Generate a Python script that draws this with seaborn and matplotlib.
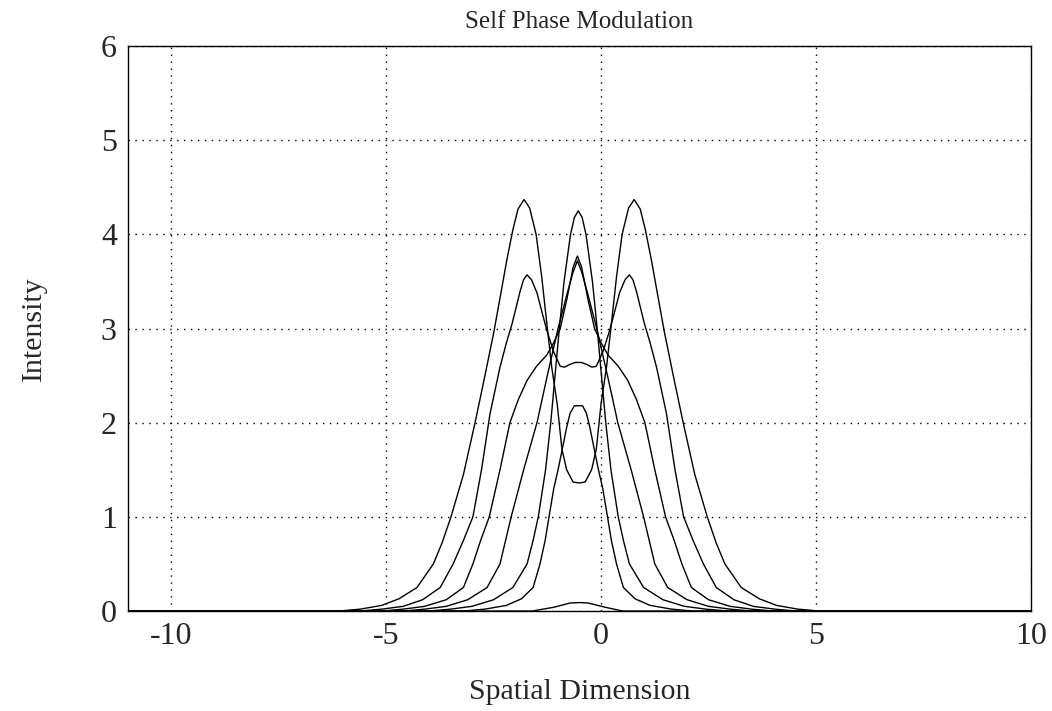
import matplotlib
matplotlib.use("Agg")
import matplotlib.pyplot as plt
import seaborn as sns

# curve A: widest split profile (two peaks ~4.37)
a_x = [-11, -6.1, -5.6, -5.1, -4.7, -4.28, -3.9, -3.7, -3.49, -3.2, -2.93, -2.7, -2.49,
       -2.3, -2.19, -2.05, -1.93, -1.79, -1.66, -1.51, -1.38, -1.26, -1.15, -1.02, -0.91,
       -0.8, -0.65, -0.51, -0.37, -0.22, -0.11, 0.0, 0.13, 0.24, 0.36, 0.49, 0.64, 0.77,
       0.91, 1.03, 1.17, 1.28, 1.47, 1.68, 1.91, 2.18, 2.47, 2.68, 2.88, 3.26, 3.68, 4.08,
       4.58, 5.08, 10]
a_y = [0, 0, 0.02, 0.06, 0.13, 0.25, 0.5, 0.72, 1.0, 1.45, 2.0, 2.5, 2.97,
       3.45, 3.73, 4.05, 4.27, 4.37, 4.28, 4.0, 3.55, 3.05, 2.6, 2.2, 1.72,
       1.5, 1.37, 1.36, 1.37, 1.5, 1.72, 2.2, 2.6, 3.05, 3.55, 4.0, 4.28, 4.37,
       4.27, 4.05, 3.73, 3.45, 2.97, 2.5, 2.0, 1.45, 1.0, 0.72, 0.5, 0.25, 0.13, 0.06,
       0.02, 0, 0]

# curve B: split profile with flat centre (peaks ~3.57)
b_x = [-11, -5.6, -5.1, -4.6, -4.15, -3.74, -3.44, -3.2, -2.98, -2.78, -2.58, -2.35,
       -2.2, -2.07, -1.88, -1.8, -1.72, -1.62, -1.49, -1.36, -1.26, -1.1, -0.95, -0.85,
       -0.72, -0.6, -0.46, -0.34, -0.21, -0.11, 0.04, 0.2, 0.3, 0.43, 0.56, 0.66, 0.74,
       0.82, 1.01, 1.14, 1.29, 1.52, 1.72, 1.92, 2.14, 2.38, 2.68, 3.09, 3.54, 4.04,
       4.54, 10]
b_y = [0, 0, 0.02, 0.05, 0.12, 0.25, 0.5, 0.75, 1.0, 1.5, 2.1, 2.59,
       2.85, 3.05, 3.4, 3.52, 3.57, 3.52, 3.38, 3.15, 2.98, 2.75, 2.6, 2.59,
       2.62, 2.64, 2.64, 2.62, 2.59, 2.6, 2.75, 2.98, 3.15, 3.38, 3.52, 3.57, 3.52,
       3.4, 3.05, 2.85, 2.59, 2.1, 1.5, 1.0, 0.75, 0.5, 0.25, 0.12, 0.05, 0.02,
       0, 0]

# curve G1: peak ~3.77 on a broad pedestal
g1_x = [-11, -5.1, -4.6, -4.1, -3.6, -3.2, -2.98, -2.8, -2.6, -2.35, -2.12, -1.92,
        -1.72, -1.5, -1.26, -1.1, -0.95, -0.8, -0.65, -0.55, -0.45, -0.3, -0.15, 0.0,
        0.16, 0.4, 0.62, 0.82, 1.02, 1.25, 1.5, 1.7, 1.88, 2.1, 2.5, 3.0, 3.5, 4.0, 10]
g1_y = [0, 0, 0.02, 0.05, 0.12, 0.25, 0.5, 0.75, 1.0, 1.5, 2.0, 2.25,
        2.45, 2.6, 2.72, 2.85, 3.0, 3.3, 3.65, 3.77, 3.65, 3.3, 3.0, 2.85,
        2.72, 2.6, 2.45, 2.25, 2.0, 1.5, 1.0, 0.75, 0.5, 0.25, 0.12, 0.05, 0.02, 0, 0]

# curve G2: peak ~3.72
g2_x = [-11, -4.6, -4.1, -3.6, -3.1, -2.65, -2.35, -2.22, -2.09, -1.8, -1.49, -1.25,
        -1.0, -0.79, -0.65, -0.55, -0.45, -0.31, -0.1, 0.15, 0.39, 0.7, 0.99, 1.12,
        1.25, 1.55, 2.0, 2.5, 3.0, 3.5, 10]
g2_y = [0, 0, 0.02, 0.05, 0.12, 0.25, 0.5, 0.75, 1.0, 1.5, 2.0, 2.5,
        3.0, 3.37, 3.6, 3.72, 3.6, 3.37, 3.0, 2.5, 2.0, 1.5, 1.0, 0.75,
        0.5, 0.25, 0.12, 0.05, 0.02, 0, 0]

# curve G0: sharp peak ~4.25
g0_x = [-11, -4.0, -3.5, -3.0, -2.5, -2.05, -1.72, -1.58, -1.46, -1.29, -1.17, -1.07,
        -0.97, -0.86, -0.71, -0.62, -0.53, -0.44, -0.35, -0.2, -0.09, 0.01, 0.11, 0.23,
        0.4, 0.52, 0.66, 0.99, 1.44, 1.94, 2.44, 2.94, 10]
g0_y = [0, 0, 0.02, 0.05, 0.12, 0.25, 0.5, 0.75, 1.0, 1.5, 2.0, 2.5,
        3.0, 3.5, 4.0, 4.18, 4.25, 4.18, 4.0, 3.5, 3.0, 2.5, 2.0, 1.5,
        1.0, 0.75, 0.5, 0.25, 0.12, 0.05, 0.02, 0, 0]

# curve C6: narrow hump ~2.18
c6_x = [-11, -3.2, -2.7, -2.2, -1.85, -1.58, -1.42, -1.3, -1.21, -1.1, -1.0, -0.91,
        -0.8, -0.72, -0.62, -0.53, -0.43, -0.34, -0.26, -0.15, -0.06, 0.04, 0.15, 0.24,
        0.36, 0.52, 0.79, 1.14, 1.64, 2.14, 10]
c6_y = [0, 0, 0.02, 0.06, 0.13, 0.25, 0.5, 0.75, 1.0, 1.3, 1.5, 1.7,
        1.95, 2.1, 2.18, 2.18, 2.18, 2.1, 1.95, 1.7, 1.5, 1.3, 1.0, 0.75,
        0.5, 0.25, 0.13, 0.06, 0.02, 0, 0]

# tiny residual bump ~0.09
t_x = [-11, -1.6, -1.1, -0.72, -0.5, -0.3, 0.1, 0.5, 10]
t_y = [0, 0, 0.04, 0.085, 0.09, 0.085, 0.04, 0, 0]

curves = [(a_x, a_y), (b_x, b_y), (g1_x, g1_y), (g2_x, g2_y),
          (g0_x, g0_y), (c6_x, c6_y), (t_x, t_y)]

sns.set_style("white")
plt.rcParams["font.family"] = ["Liberation Serif", "DejaVu Serif"]
plt.rcParams["axes.unicode_minus"] = False

fig = plt.figure(figsize=(10.52, 7.11), dpi=100)
ax = fig.add_axes([0.1217, 0.1406, 0.8584, 0.7946])

for cx, cy in curves:
    sns.lineplot(x=cx, y=cy, ax=ax, color="black", lw=1.0,
                 estimator=None, sort=False)

ax.set_xlim(-11, 10)
ax.set_ylim(0, 6)
ax.set_xticks([-10, -5, 0, 5, 10])
ax.set_yticks([0, 1, 2, 3, 4, 5, 6])
ax.grid(True, color="black", linestyle=(0, (1, 4)), lw=1.0)
ax.tick_params(direction="in", length=4, labelsize=23, width=0.8, pad=8)

for s in ax.spines.values():
    s.set_visible(True)
    s.set_color("black")
    s.set_linewidth(1.0)

ax.set_title("Self Phase Modulation", fontsize=18, pad=13)
ax.set_xlabel("Spatial Dimension", fontsize=21.5, labelpad=20)
ax.set_ylabel("Intensity", fontsize=21.5, labelpad=39)

fig.savefig("out.png", dpi=100)
